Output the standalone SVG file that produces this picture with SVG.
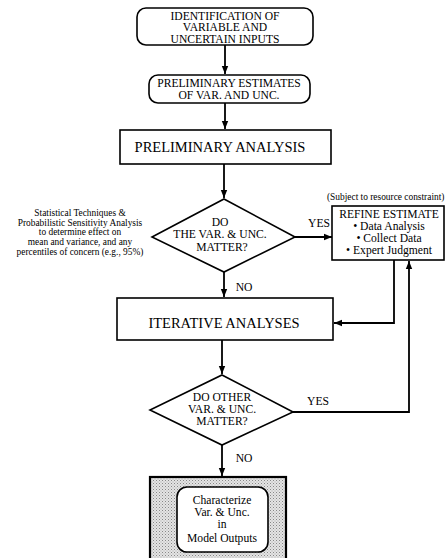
<svg xmlns="http://www.w3.org/2000/svg" width="447" height="558" viewBox="0 0 447 558">
<style>
.b{fill:#fff;stroke:#000;stroke-width:1.6}
.t{font-family:"Liberation Serif",serif;fill:#000;text-anchor:middle}
.s{font-size:11.6px}
.m{font-size:14.5px}
.x{font-size:9.4px}
.c{fill:none;stroke:#000;stroke-width:1.8}
</style>
<defs>
<marker id="ah" viewBox="0 0 10 10" refX="10" refY="5" markerWidth="8" markerHeight="8" markerUnits="userSpaceOnUse" orient="auto">
<path d="M0,1 L10,5 L0,9 z" fill="#000"/>
</marker>
<pattern id="dots" width="3" height="3" patternUnits="userSpaceOnUse">
<rect width="3" height="3" fill="#e4e4e4"/>
<rect width="1" height="1" fill="#888"/>
<rect x="1.5" y="1.5" width="1" height="1" fill="#aaa"/>
</pattern>
</defs>
<g id="connectors">
<line class="c" x1="225" y1="45" x2="225" y2="74" marker-end="url(#ah)"/>
<line class="c" x1="225" y1="103" x2="225" y2="129" marker-end="url(#ah)"/>
<line class="c" x1="224" y1="164" x2="224" y2="198" marker-end="url(#ah)"/>
<line class="c" x1="295" y1="237" x2="332" y2="237" marker-end="url(#ah)"/>
<line class="c" x1="224" y1="272" x2="224" y2="297" marker-end="url(#ah)"/>
<polyline class="c" points="394,260 394,323 334,323" marker-end="url(#ah)"/>
<line class="c" x1="222" y1="340" x2="222" y2="374" marker-end="url(#ah)"/>
<polyline class="c" points="293,412 409,412 409,261" marker-end="url(#ah)"/>
<line class="c" x1="222" y1="445" x2="222" y2="476" marker-end="url(#ah)"/>
<text class="t s" x="319" y="227">YES</text>
<text class="t s" x="244" y="291">NO</text>
<text class="t s" x="318" y="405">YES</text>
<text class="t s" x="244" y="462">NO</text>
</g>
<g id="n1">
<rect class="b" x="137" y="8" width="176" height="37" rx="9"/>
<text class="t s" x="225" y="19.5">IDENTIFICATION OF</text>
<text class="t s" x="225" y="31">VARIABLE AND</text>
<text class="t s" x="225" y="42.5">UNCERTAIN INPUTS</text>
</g>
<g id="n2">
<rect class="b" x="149" y="75" width="161" height="28" rx="9"/>
<text class="t s" x="229" y="87">PRELIMINARY ESTIMATES</text>
<text class="t s" x="229" y="99">OF VAR. AND UNC.</text>
</g>
<g id="n3">
<rect class="b" x="120" y="130" width="211" height="34"/>
<text class="t m" x="220" y="152">PRELIMINARY ANALYSIS</text>
</g>
<g id="n4">
<polygon class="b" points="224,199 295,237 224,272 152,237"/>
<text class="t s" x="220" y="226">DO</text>
<text class="t s" x="220" y="238">THE VAR. &amp; UNC.</text>
<text class="t s" x="222" y="251">MATTER?</text>
</g>
<g id="note">
<text class="t x" x="80" y="216">Statistical Techniques &amp;</text>
<text class="t x" x="80" y="225.7">Probabilistic Sensitivity Analysis</text>
<text class="t x" x="80" y="235.4">to determine effect on</text>
<text class="t x" x="80" y="245.1">mean and variance, and any</text>
<text class="t x" x="80" y="254.8">percentiles of concern (e.g., 95%)</text>
</g>
<g id="n5">
<text class="x" style="font-family:'Liberation Serif',serif" x="327" y="200">(Subject to resource constraint)</text>
<rect class="b" x="332" y="206" width="112" height="54"/>
<text class="t s" x="389" y="218">REFINE ESTIMATE</text>
<text class="t s" x="389" y="230">• Data Analysis</text>
<text class="t s" x="389" y="242">• Collect Data</text>
<text class="t s" x="389" y="254">• Expert Judgment</text>
</g>
<g id="n6">
<rect class="b" x="117" y="298" width="216" height="42"/>
<text class="t m" x="224" y="328">ITERATIVE ANALYSES</text>
</g>
<g id="n7">
<polygon class="b" points="222,375 293,412 222,445 150,410"/>
<text class="t s" x="222" y="401">DO OTHER</text>
<text class="t s" x="222" y="413">VAR. &amp; UNC.</text>
<text class="t s" x="222" y="425">MATTER?</text>
</g>
<g id="n8">
<rect x="150" y="477" width="136" height="84" fill="url(#dots)" stroke="#000" stroke-width="2.2"/>
<rect class="b" x="177" y="487" width="91" height="65" rx="10"/>
<text class="t s" x="222" y="504">Characterize</text>
<text class="t s" x="222" y="516">Var. &amp; Unc.</text>
<text class="t s" x="222" y="528">in</text>
<text class="t s" x="222" y="542">Model Outputs</text>
</g>
</svg>
